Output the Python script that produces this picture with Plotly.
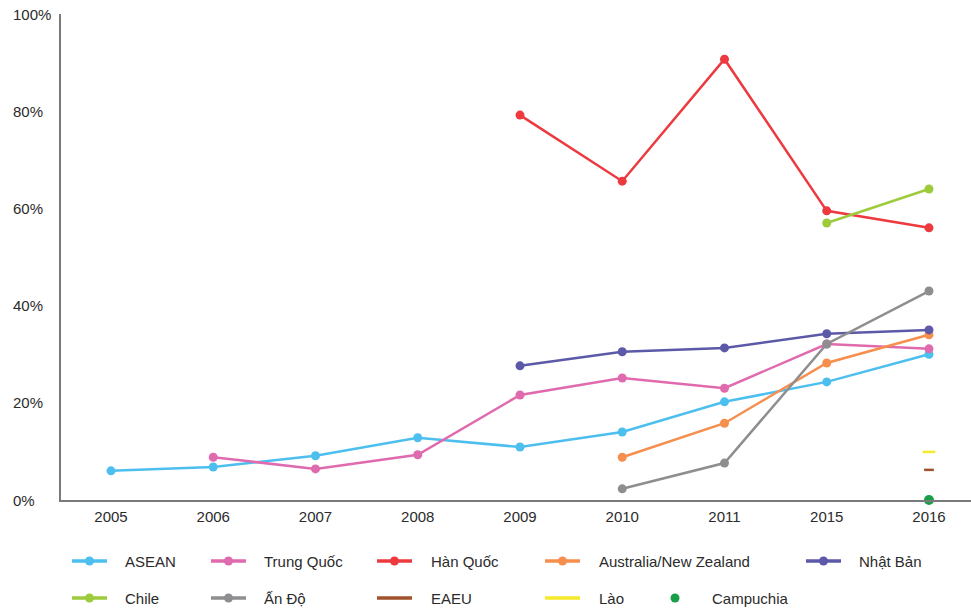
import plotly.graph_objects as go

years = ["2005", "2006", "2007", "2008", "2009", "2010", "2011", "2015", "2016"]

asean = [6.0, 6.8, 9.1, 12.8, 10.9, 14.0, 20.2, 24.3, 30.0]
trung_quoc = [None, 8.8, 6.4, 9.3, 21.6, 25.1, 23.0, 32.1, 31.1]
han_quoc = [None, None, None, None, 79.2, 65.6, 90.7, 59.5, 56.0]
australia_nz = [None, None, None, None, None, 8.8, 15.8, 28.2, 34.0]
nhat_ban = [None, None, None, None, 27.6, 30.5, 31.3, 34.2, 35.0]
chile = [None, None, None, None, None, None, None, 57.0, 64.0]
an_do = [None, None, None, None, None, 2.3, 7.6, 32.1, 43.0]
eaeu = [None, None, None, None, None, None, None, None, 6.2]
lao = [None, None, None, None, None, None, None, None, 9.9]
campuchia = [None, None, None, None, None, None, None, None, 0.0]

ytick_vals = [0, 20, 40, 60, 80, 100]
ytick_text = ["0%", "20%", "40%", "60%", "80%", "100%"]

series = [
    ("ASEAN", asean, "#4DBFEF", "line"),
    ("Trung Quốc", trung_quoc, "#E06AAE", "line"),
    ("Hàn Quốc", han_quoc, "#EC3A3F", "line"),
    ("Australia/New Zealand", australia_nz, "#F68F4E", "line"),
    ("Nhật Bản", nhat_ban, "#5C5AA8", "line"),
    ("Chile", chile, "#9DCB3C", "line"),
    ("Ấn Độ", an_do, "#8E8E90", "line"),
    ("EAEU", eaeu, "#A0522D", "dash"),
    ("Lào", lao, "#F6EA2A", "dash"),
    ("Campuchia", campuchia, "#1A9E48", "dot"),
]

W, H = 971, 610
L, R, T, B = 61, 0, 14, 110
PW, PH = W - L - R, H - T - B

xi = list(range(len(years)))
fig = go.Figure()
for name, vals, color, kind in series:
    if kind == "line":
        fig.add_trace(go.Scatter(x=xi, y=vals, mode="lines+markers", name=name,
                                 line=dict(color=color, width=2.5),
                                 marker=dict(color=color, size=9),
                                 showlegend=False, cliponaxis=False))
    elif kind == "dash":
        w = 7 if name == "EAEU" else 9
        fig.add_trace(go.Scatter(x=xi, y=vals, mode="markers", name=name,
                                 marker=dict(symbol="line-ew", size=w,
                                             line=dict(color=color, width=2.5)),
                                 showlegend=False, cliponaxis=False))
    else:
        fig.add_trace(go.Scatter(x=xi, y=vals, mode="markers", name=name,
                                 marker=dict(color=color, size=10),
                                 showlegend=False, cliponaxis=False))

def px_x(px):
    return (px - L) / PW

def px_y(py):
    return (T + PH - py) / PH

font_col = "#2b2b2b"
shapes = []
annotations = []

# y tick labels, left aligned
for v, t in zip(ytick_vals, ytick_text):
    annotations.append(dict(x=px_x(11), y=v, xref="paper", yref="y", text=t,
                            showarrow=False, xanchor="left", yanchor="middle",
                            font=dict(size=15, color=font_col)))

# manual legend
leg_pos = [
    (72, 561, 123), (211, 561, 262), (377, 561, 429), (545, 561, 597), (806, 561, 857),
    (72, 598, 123), (211, 598, 262), (377, 598, 429), (545, 598, 597), (660, 598, 710),
]
for (name, vals, color, kind), (lx, ly, tx) in zip(series, leg_pos):
    if kind in ("line", "dash"):
        shapes.append(dict(type="line", xref="paper", yref="paper",
                           x0=px_x(lx), x1=px_x(lx + 35), y0=px_y(ly), y1=px_y(ly),
                           line=dict(color=color, width=3.5)))
    if kind in ("line", "dot"):
        cx = lx + 17.5 if kind == "line" else 675
        shapes.append(dict(type="circle", xref="paper", yref="paper",
                           xsizemode="pixel", ysizemode="pixel",
                           xanchor=px_x(cx), yanchor=px_y(ly),
                           x0=-4.5, x1=4.5, y0=-4.5, y1=4.5,
                           fillcolor=color, line=dict(width=0)))
    annotations.append(dict(x=px_x(tx), y=px_y(ly), xref="paper", yref="paper",
                            text=name, showarrow=False, xanchor="left", yanchor="middle",
                            font=dict(size=15, color=font_col)))

fig.update_layout(
    width=W, height=H,
    margin=dict(l=L, r=R, t=T, b=B, pad=0),
    paper_bgcolor="white", plot_bgcolor="white",
    font=dict(family="Liberation Sans, Arial, sans-serif", size=15, color=font_col),
    showlegend=False,
    shapes=shapes,
    annotations=annotations,
    xaxis=dict(range=[-0.489, 8.411], tickvals=xi, ticktext=years,
               showgrid=False, zeroline=False, showline=True,
               linecolor="#7a7a7a", linewidth=1.5, ticks="",
               tickfont=dict(size=15, color=font_col), ticklabelstandoff=2),
    yaxis=dict(range=[0, 100], tickvals=ytick_vals, showticklabels=False,
               showgrid=False, zeroline=False, showline=True,
               linecolor="#7a7a7a", linewidth=1.5, ticks=""),
)

fig.write_html("out.html")
